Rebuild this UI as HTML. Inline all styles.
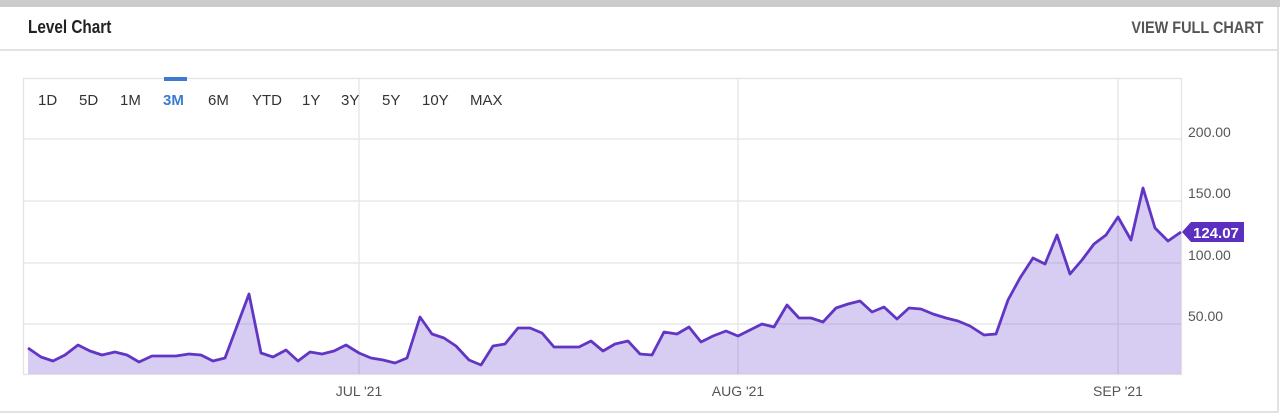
<!DOCTYPE html>
<html><head><meta charset="utf-8"><style>
body{margin:0;width:1280px;height:418px;background:#fff;font-family:"Liberation Sans",sans-serif;overflow:hidden;position:relative}
.top{position:absolute;left:0;top:0;width:1280px;height:7px;background:#cbcbcb}
.card{position:absolute;left:0;top:7px;width:1277px;height:404px;border-right:2px solid #e2e2e2;border-bottom:2px solid #e2e2e2}
.hdr{position:absolute;top:49px;left:0;width:1279px;height:2px;background:#e2e2e2}
.t{position:absolute;font-weight:bold;font-size:18px;color:#222;transform:scaleX(0.85);transform-origin:left}
.v{position:absolute;font-weight:bold;font-size:17px;color:#555;transform:scaleX(0.85);transform-origin:right}
</style></head><body>
<div class="top"></div><div class="card"></div><div class="hdr"></div>
<div class="t" style="left:28px;top:17px">Level Chart</div>
<div class="v" style="right:16px;top:18px">VIEW FULL CHART</div>
<svg width="1280" height="418" style="position:absolute;left:0;top:0" font-family="Liberation Sans, sans-serif">
<g stroke="#e4e4e4" stroke-width="1.3" fill="none">
<rect x="23.5" y="78.5" width="1158" height="296"/>
<line x1="23" y1="139" x2="1181" y2="139"/><line x1="23" y1="201" x2="1181" y2="201"/>
<line x1="23" y1="263" x2="1181" y2="263"/><line x1="23" y1="324" x2="1181" y2="324"/>
<line x1="359" y1="78" x2="359" y2="374"/><line x1="738" y1="78" x2="738" y2="374"/><line x1="1118" y1="78" x2="1118" y2="374"/>
</g>
<rect x="164" y="77" width="23" height="4" fill="#3d7bd0"/>
<g font-size="15" fill="#333">
<text x="38" y="105">1D</text><text x="79" y="105">5D</text><text x="120" y="105">1M</text>
<text x="163" y="105" fill="#3d7bd0" font-weight="bold">3M</text><text x="208" y="105">6M</text>
<text x="252" y="105">YTD</text><text x="302" y="105">1Y</text><text x="341" y="105">3Y</text>
<text x="382" y="105">5Y</text><text x="422" y="105">10Y</text><text x="470" y="105">MAX</text>
</g>
<g font-size="14" fill="#555">
<text x="1188" y="137">200.00</text><text x="1188" y="198">150.00</text>
<text x="1188" y="260">100.00</text><text x="1188" y="321">50.00</text>
<text x="359" y="396" text-anchor="middle">JUL '21</text><text x="738" y="396" text-anchor="middle">AUG '21</text><text x="1118" y="396" text-anchor="middle">SEP '21</text>
</g>
<path d="M28,348 L41,357 L53,361 L65,355 L78,345 L90,351 L102,355 L115,352 L127,355 L139,362 L152,356 L164,356 L176,356 L189,354 L201,355 L213,361 L225,358 L249,294 L261,353 L273,357 L286,350 L298,361 L310,352 L322,354 L334,351 L346,345 L359,353 L371,358 L383,360 L395,363 L407,358 L420,317 L432,334 L444,338 L456,346 L469,360 L481,365 L493,346 L505,344 L518,328 L530,328 L542,333 L554,347 L566,347 L579,347 L591,341 L603,351 L615,344 L628,341 L640,354 L652,355 L664,332 L677,334 L689,327 L701,342 L713,336 L726,331 L738,336 L750,330 L762,324 L774,327 L787,305 L799,318 L811,318 L823,322 L836,308 L848,304 L860,301 L872,312 L884,307 L897,319 L909,308 L921,309 L933,314 L946,318 L958,321 L970,326 L984,335 L996,334 L1008,300 L1020,278 L1033,258 L1045,264 L1057,235 L1070,274 L1082,260 L1094,244 L1106,235 L1118,217 L1131,240 L1143,188 L1155,228 L1168,241 L1181,232 L1181,374 L28,374 Z" fill="#7b55cf" fill-opacity="0.3" stroke="none"/>
<path d="M28,348 L41,357 L53,361 L65,355 L78,345 L90,351 L102,355 L115,352 L127,355 L139,362 L152,356 L164,356 L176,356 L189,354 L201,355 L213,361 L225,358 L249,294 L261,353 L273,357 L286,350 L298,361 L310,352 L322,354 L334,351 L346,345 L359,353 L371,358 L383,360 L395,363 L407,358 L420,317 L432,334 L444,338 L456,346 L469,360 L481,365 L493,346 L505,344 L518,328 L530,328 L542,333 L554,347 L566,347 L579,347 L591,341 L603,351 L615,344 L628,341 L640,354 L652,355 L664,332 L677,334 L689,327 L701,342 L713,336 L726,331 L738,336 L750,330 L762,324 L774,327 L787,305 L799,318 L811,318 L823,322 L836,308 L848,304 L860,301 L872,312 L884,307 L897,319 L909,308 L921,309 L933,314 L946,318 L958,321 L970,326 L984,335 L996,334 L1008,300 L1020,278 L1033,258 L1045,264 L1057,235 L1070,274 L1082,260 L1094,244 L1106,235 L1118,217 L1131,240 L1143,188 L1155,228 L1168,241 L1181,232" fill="none" stroke="#6236c5" stroke-width="2.8" stroke-linejoin="round"/>
<path d="M1182,232 L1191,222 L1244,222 L1244,242 L1191,242 Z" fill="#5b2fbf"/>
<text x="1193" y="238" font-size="15" font-weight="bold" fill="#fff">124.07</text>
</svg>
</body></html>
